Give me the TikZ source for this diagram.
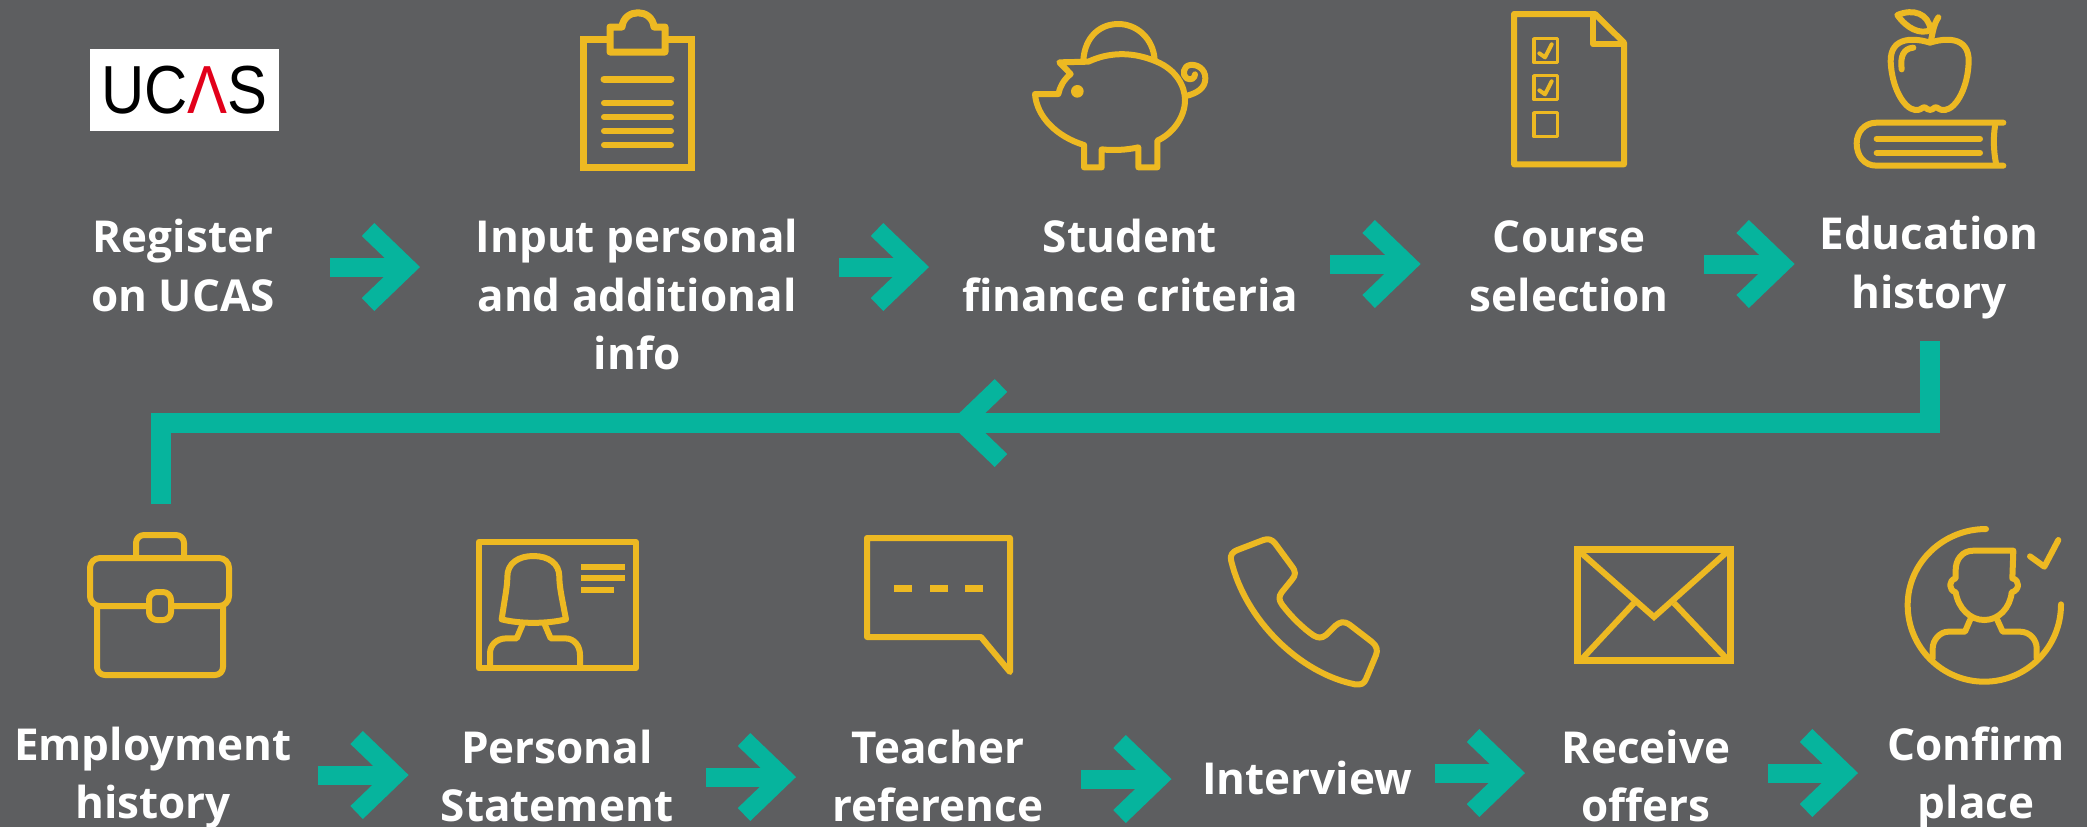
\documentclass[tikz,border=0pt]{standalone}
\usepackage{xcolor}
\usepackage{fontspec}
\setmainfont{Open Sans}
\newfontfamily\logofont[FakeStretch=.88]{Liberation Sans}
\usepackage{tikz}
\usetikzlibrary{arrows.meta}
\definecolor{slate}{HTML}{5D5E60}
\definecolor{gold}{HTML}{EDB922}
\definecolor{teal}{HTML}{06B49D}
\definecolor{ucasred}{HTML}{E2001A}
\newcommand{\rowstrut}{\rule[-2.5pt]{0pt}{23pt}}

\begin{document}
\begin{tikzpicture}[x=0.5pt, y=-0.5pt,
    steptext/.style={inner sep=0pt, align=center, text=white, font=\bfseries\fontsize{22}{29.25}\selectfont},
    logo/.style={fill=white, minimum width=94.5pt, minimum height=41pt, inner sep=0pt, text=black, font=\logofont\fontsize{34}{34}\selectfont},
    flowline/.style={draw=teal, line width=10pt},
    flow/.style={draw=teal, line width=9.5pt, -{Straight Barb[length=19.5pt, width=37.5pt, line width=9pt]}},
    icon/.style={draw=gold, line width=3pt, line cap=round, line join=round}]
    \fill[slate] (0,0) rectangle (2087,827);
    \useasboundingbox (0,0) rectangle (2087,827);
    \node[logo] (ucas) at (184.5,90) {UC\textcolor{ucasred}{Λ}S};
    \node[steptext] (register) at (183,264) {\rowstrut Register\\on UCAS\rowstrut};
    \node[steptext] (input) at (637,293) {\rowstrut Input personal\\and additional\\info\rowstrut};
    \node[steptext] (finance) at (1130,264) {\rowstrut Student\\finance criteria\rowstrut};
    \node[steptext] (course) at (1569,264) {\rowstrut Course\\selection\rowstrut};
    \node[steptext] (education) at (1929,264) {\rowstrut Education\\history\rowstrut};
    \node[steptext] (employment) at (153,774.5) {\rowstrut Employment\\history\rowstrut};
    \node[steptext] (statement) at (557,774.5) {\rowstrut Personal\\Statement\rowstrut};
    \node[steptext] (teacher) at (938,774.5) {\rowstrut Teacher\\reference\rowstrut};
    \node[steptext] (interview) at (1307,776.5) {\rowstrut Interview\rowstrut};
    \node[steptext] (offers) at (1646,774.5) {\rowstrut Receive\\offers\rowstrut};
    \node[steptext] (confirm) at (1976,774.5) {\rowstrut Confirm\\place\rowstrut};
    \coordinate (turn) at (949,423);
    \draw [flow] ([shift={(147,3)}]register.center) -- ([shift={(-217,-26)}]input.center);
    \draw [flow] ([shift={(202,-26)}]input.center) -- ([shift={(-201,3)}]finance.center);
    \draw [flow] ([shift={(200,0)}]finance.center) -- ([shift={(-148.4,0)}]course.center);
    \draw [flow] ([shift={(135,0)}]course.center) -- ([shift={(-134.4,0)}]education.center);
    \draw [flowline] ([shift={(1,77)}]education.center) |- (turn) -| ([shift={(8,-270.5)}]employment.center);
    \draw [flow, line width=10pt] ([xshift=30pt]turn) -- (turn);
    \draw [flow] ([shift={(165,.5)}]employment.center) -- ([shift={(-148.4,.5)}]statement.center);
    \draw [flow] ([shift={(149,2.5)}]statement.center) -- ([shift={(-142,2.5)}]teacher.center);
    \draw [flow] ([shift={(143,4.5)}]teacher.center) -- ([shift={(-135.5,2.5)}]interview.center);
    \draw [flow] ([shift={(128,-3.5)}]interview.center) -- ([shift={(-121,-1.5)}]offers.center);
    \draw [flow] ([shift={(122,-1.5)}]offers.center) -- ([shift={(-118,-1.5)}]confirm.center);
    % clipboard
    \draw [icon, line cap=butt, line join=miter, line width=3.5pt] (610,39.5) -- (583.5,39.5) -- (583.5,167.5) -- (691.5,167.5) -- (691.5,39.5) -- (665,39.5);
    \draw [icon, line width=3.5pt] (610,27) -- (622,27) .. controls (624,8) and (652,8) .. (654,27) -- (665,27) -- (665,52) -- (610,52) -- cycle;
    \draw [icon, line width=3.5pt] (604,79) -- (671,79);
    \draw [icon] (604,103) -- (671,103);
    \draw [icon] (604,117) -- (671,117);
    \draw [icon] (604,131) -- (671,131);
    \draw [icon] (604,145) -- (671,145);
    % piggy bank
    \begin{scope}[shift={(1020,10)}, scale=1/3]
        \draw [icon] (205,155) .. controls (270,125) and (340,125) .. (410,155) .. controls (470,180) and (495,230) .. (495,270) .. controls (495,320) and (460,370) .. (412,392) -- (412,472) -- (355,472) -- (355,412) .. controls (320,420) and (280,422) .. (245,418) -- (245,472) -- (192,472) -- (192,405) .. controls (110,380) and (50,320) .. (45,252) -- (115,252) .. controls (120,230) and (130,210) .. (152,192) -- (118,157) -- cycle;
        \draw [icon] (190,150) .. controls (195,80) and (240,42) .. (295,42) .. controls (350,42) and (400,85) .. (404,150);
        \draw [icon] (498,258) .. controls (530,250) and (556,235) .. (556,205) .. controls (556,175) and (530,162) .. (510,165) .. controls (490,168) and (485,195) .. (500,205) .. controls (512,212) and (525,205) .. (525,193);
        \fill [gold] (172,244) circle (19);
    \end{scope}
    % checklist
    \begin{scope}[shift={(1500,0)}, scale=1/3]
        \draw [icon] (42,42) -- (285,42) -- (372,128) -- (372,493) -- (42,493) -- cycle;
        \draw [icon] (280,42) -- (280,133) -- (372,133);
        \draw [icon, line width=1.8pt] (102,116) rectangle (173,188);
        \draw [icon, line width=1.8pt] (102,227) rectangle (173,299);
        \draw [icon, line width=1.8pt] (102,338) rectangle (173,410);
        \draw [icon, line width=2pt] (118,160) -- (135,172) -- (155,133);
        \draw [icon, line width=2pt] (118,271) -- (135,283) -- (155,244);
    \end{scope}
    % apple on a book
    \begin{scope}[shift={(1840,0)}, scale=1/3]
        \draw [icon] (490,368) -- (110,368) .. controls (70,368) and (50,400) .. (50,430) .. controls (50,465) and (70,497) .. (110,497) -- (490,497);
        \draw [icon] (465,378) .. controls (460,410) and (460,450) .. (468,490);
        \draw [icon] (110,416) -- (420,416);
        \draw [icon] (110,458) -- (420,458);
        \draw [icon] (270,128) .. controls (230,115) and (150,105) .. (152,185) .. controls (155,260) and (190,325) .. (225,330) .. controls (245,332) and (245,320) .. (255,322) .. controls (265,332) and (275,332) .. (285,322) .. controls (295,320) and (295,332) .. (315,330) .. controls (350,325) and (384,260) .. (386,185) .. controls (388,105) and (310,115) .. (270,128) -- cycle;
        \draw [icon] (272,125) .. controls (278,100) and (280,75) .. (295,52);
        \draw [icon] (172,45) .. controls (220,25) and (265,40) .. (272,90) .. controls (240,105) and (200,85) .. (172,45) -- cycle;
        \draw [icon] (185,208) .. controls (180,170) and (190,145) .. (220,143);
    \end{scope}
    % briefcase
    \draw [icon, rounded corners=5pt] (149,606) -- (90,606) -- (90,558) -- (229,558) -- (229,606) -- (171,606);
    \draw [icon, rounded corners=4pt] (149,592) rectangle (171,620);
    \draw [icon, rounded corners=4pt] (136,558) -- (136,535) -- (184,535) -- (184,558);
    \draw [icon, rounded corners=4pt] (97,606) -- (97,675) -- (223,675) -- (223,606);
    % id card
    \begin{scope}[shift={(470,530)}, scale=1/3]
        \draw [icon] (26,36) rectangle (498,414);
        \draw [icon, line cap=butt] (333,111) -- (465,111);
        \draw [icon, line cap=butt] (333,145) -- (465,145);
        \draw [icon, line cap=butt] (333,179) -- (431,179);
        \draw [icon] (95,268) .. controls (150,282) and (230,282) .. (288,268) .. controls (275,200) and (268,170) .. (268,140) .. controls (268,100) and (235,78) .. (190,78) .. controls (145,78) and (112,100) .. (112,140) .. controls (112,170) and (105,200) .. (95,268) -- cycle;
        \draw [icon] (157,285) -- (140,325) -- (110,325) .. controls (80,325) and (60,345) .. (60,370) -- (60,408);
        \draw [icon] (225,285) -- (242,325) -- (285,325) .. controls (315,325) and (330,350) .. (330,375) -- (330,408);
    \end{scope}
    % speech bubble
    \draw [icon] (867,538) -- (1010,538) -- (1010,672) -- (981,637) -- (867,637) -- cycle;
    \fill [gold] (894,585) rectangle (912,592);
    \fill [gold] (930,585) rectangle (948,592);
    \fill [gold] (965,585) rectangle (983,592);
    % phone
    \begin{scope}[shift={(1220,530)}, scale=1/3]
        \draw [icon] (52,60) -- (130,30) .. controls (145,25) and (155,28) .. (165,40) -- (215,108) .. controls (228,125) and (228,135) .. (215,150) -- (185,187) .. controls (175,200) and (177,212) .. (187,225) .. controls (215,262) and (250,295) .. (280,316) .. controls (295,325) and (305,325) .. (318,315) -- (345,288) .. controls (360,275) and (372,272) .. (390,285) -- (455,335) .. controls (470,347) and (474,360) .. (468,375) -- (438,447) .. controls (432,462) and (422,465) .. (405,463) .. controls (240,430) and (75,270) .. (33,90) .. controls (30,75) and (38,65) .. (52,60) -- cycle;
    \end{scope}
    % envelope
    \draw [icon, line join=miter, line width=3.5pt] (1577,549.5) rectangle (1730,660.5);
    \draw [icon, line cap=butt, line join=miter] (1579,551) -- (1654,617) -- (1728,551);
    \draw [icon, line cap=butt] (1634,603) -- (1581,660);
    \draw [icon, line cap=butt] (1674,603) -- (1728,660);
    % person with a tick
    \begin{scope}[shift={(1890,515)}, scale=1/3]
        \draw [icon] (288,42) .. controls (160,42) and (53,143) .. (53,270) .. controls (53,397) and (156,500) .. (283,500) .. controls (410,500) and (513,397) .. (513,268);
        \draw [icon] (370,107) -- (250,107) .. controls (215,107) and (197,135) .. (197,165) -- (197,190) .. controls (175,195) and (175,225) .. (197,232) .. controls (205,280) and (240,315) .. (283,315) .. controls (325,315) and (360,280) .. (365,232) .. controls (390,225) and (390,195) .. (367,190) -- cycle;
        \draw [icon] (240,315) -- (225,350) -- (175,350) .. controls (150,350) and (128,375) .. (128,400) -- (128,430);
        \draw [icon] (322,315) -- (338,350) -- (390,350) .. controls (420,350) and (440,375) .. (440,400) -- (440,430);
        \draw [icon] (420,124) -- (463,155) -- (505,75);
    \end{scope}
\end{tikzpicture}
\end{document}
